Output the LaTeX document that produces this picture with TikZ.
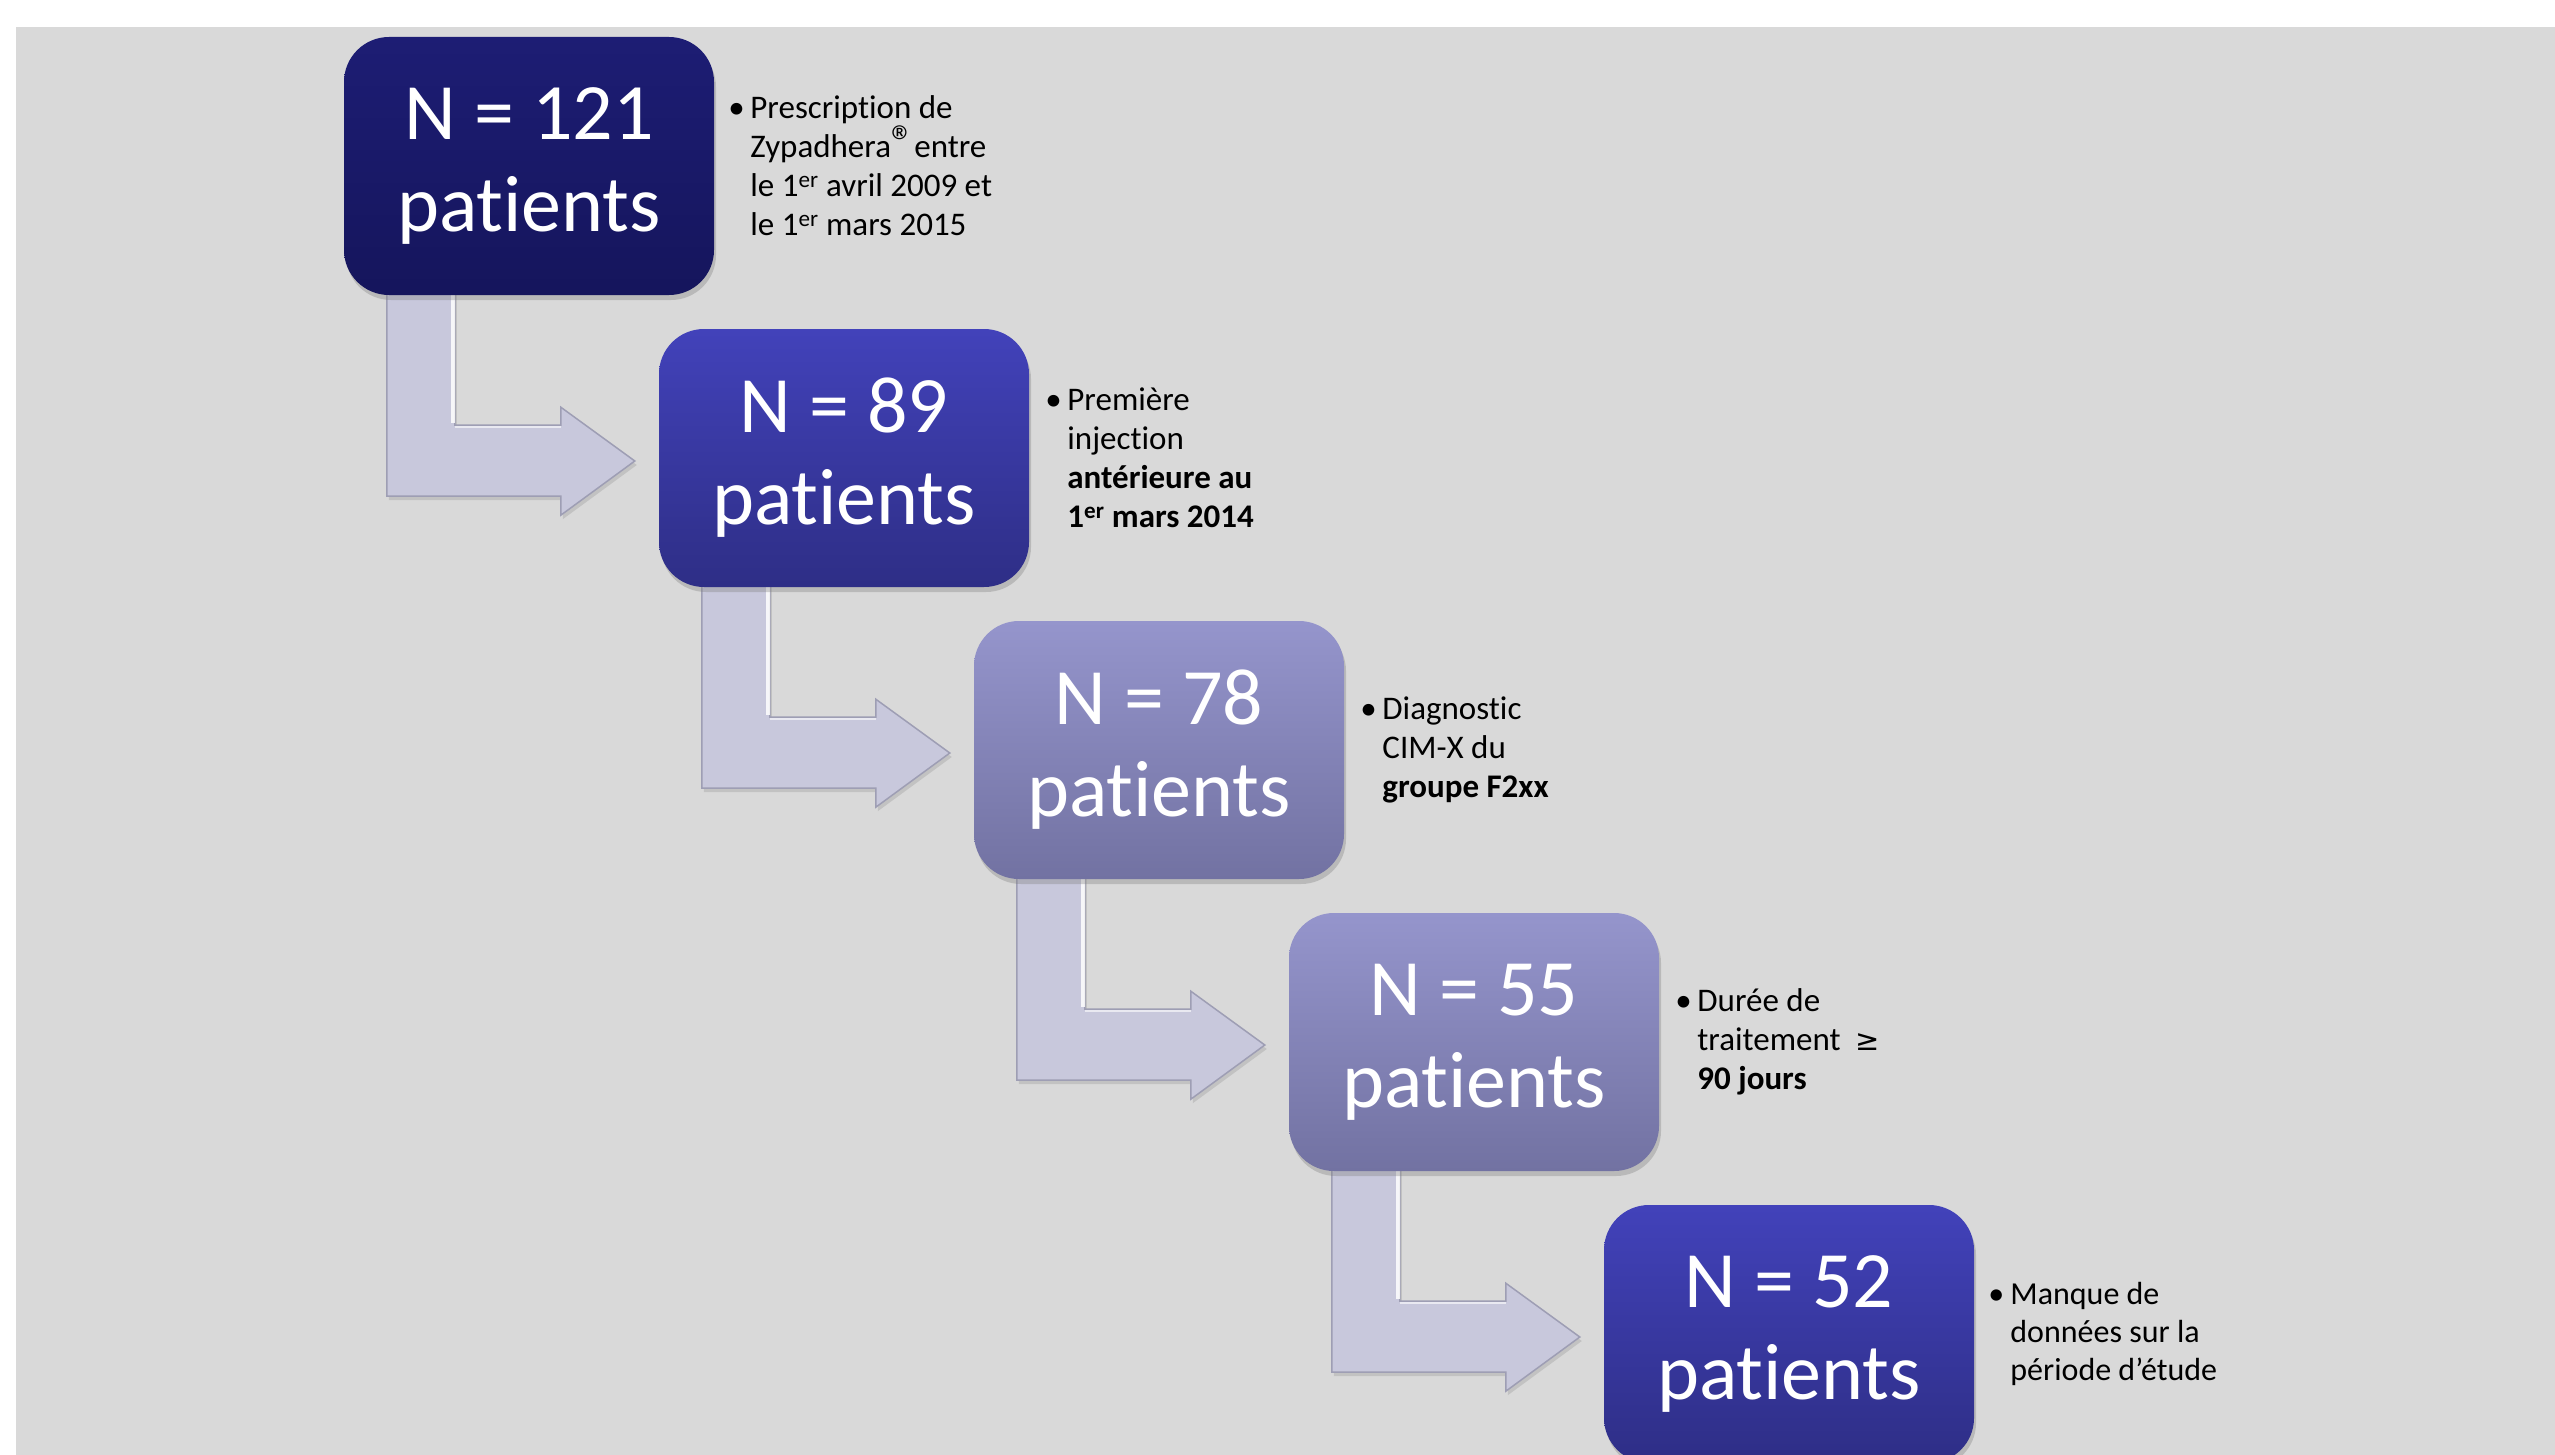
\documentclass[tikz,border=0pt]{standalone}
\usepackage{fontspec}
\setmainfont{Carlito}[Ligatures=NoCommon]
\newfontfamily\symf{DejaVu Sans}
\usetikzlibrary{calc,shadows,backgrounds}
\pgfdeclarelayer{arrowlayer}
\pgfsetlayers{background,arrowlayer,main}
\definecolor{bgc}{HTML}{D9D9D9}
\definecolor{darkT}{HTML}{1D1D74}
\definecolor{darkB}{HTML}{15155C}
\definecolor{midT}{HTML}{4242BA}
\definecolor{midB}{HTML}{2E2E86}
\definecolor{lightT}{HTML}{9595CC}
\definecolor{lightB}{HTML}{7272A2}
\definecolor{arrowc}{HTML}{C8C8DC}
\definecolor{arrowedge}{HTML}{9E9EB4}
\newcommand\bul{\makebox[22pt][l]{\textbullet}}
\newcommand\bulind{\hspace*{22pt}}
\newcommand\bentarrow[2]{%
  \fill[arrowc, draw=arrowedge, line width=1.5pt, drop shadow={shadow xshift=2pt, shadow yshift=-4pt, opacity=0.25}]
    ($(#1.south west)+(43,-5)$) -- ($(#1.south west)+(111,-5)$)
    -- ($(#1.south west)+(111,130)$) -- ($(#1.south west)+(217,130)$)
    -- ($(#1.south west)+(217,112)$) -- ($(#2.west)+(-24,3)$)
    -- ($(#1.south west)+(217,220)$) -- ($(#1.south west)+(217,201)$)
    -- ($(#1.south west)+(43,201)$) -- cycle;
  \draw[white, line width=4pt, opacity=0.85]
    ($(#1.south west)+(109,-2)$) -- ($(#1.south west)+(109,128)$);
  \draw[white, line width=2pt, opacity=0.6]
    ($(#1.south west)+(111,132)$) -- ($(#1.south west)+(217,132)$);
}
\begin{document}
\begin{tikzpicture}[x=1pt,y=-1pt,
  box/.style={rounded corners=45pt, minimum width=370pt, minimum height=258pt,
    inner sep=0pt, align=center, text=white,
    font=\fontsize{80}{92}\selectfont,
    drop shadow={shadow xshift=2pt, shadow yshift=-5pt, opacity=0.35}},
  darkbox/.style={box, top color=darkT, bottom color=darkB},
  midbox/.style={box, top color=midT, bottom color=midB},
  lightbox/.style={box, top color=lightT, bottom color=lightB},
  note/.style={anchor=west, inner sep=0pt, align=left, text=black,
    font=\fontsize{33}{39}\selectfont}]
\useasboundingbox (0,0) rectangle (2555,1455);
\begin{pgfonlayer}{background}
  \fill[white] (0,0) rectangle (2555,1455);
  \fill[bgc] (16,27) rectangle (2555,1455);
\end{pgfonlayer}

\node[darkbox]  (b1) at (529,166)  {N = 121\\patients};
\node[midbox]   (b2) at (844,458)  {N = 89\\patients};
\node[lightbox] (b3) at (1159,750) {N = 78\\patients};
\node[lightbox] (b4) at (1474,1042) {N = 55\\patients};
\node[midbox]   (b5) at (1789,1334) {N = 52\\patients};

\begin{pgfonlayer}{arrowlayer}
  \bentarrow{b1}{b2}
  \bentarrow{b2}{b3}
  \bentarrow{b3}{b4}
  \bentarrow{b4}{b5}
\end{pgfonlayer}

\node[note] (t1) at ($(b1.east)+(14,0)$) {\bul Prescription de\\
  \bulind Zypadhera{\fontsize{46}{39}\selectfont ®}entre\\
  \bulind le 1\textsuperscript{er} avril 2009 et\\
  \bulind le 1\textsuperscript{er} mars 2015};
\node[note] (t2) at ($(b2.east)+(16,0)$) {\bul Première\\
  \bulind injection\\
  \bulind \textbf{antérieure au}\\
  \bulind \textbf{1\textsuperscript{er} mars 2014}};
\node[note] (t3) at ($(b3.east)+(16,0)$) {\bul Diagnostic\\
  \bulind CIM-X du\\
  \bulind \textbf{groupe F2xx}};
\node[note] (t4) at ($(b4.east)+(16,0)$) {\bul Durée de\\
  \bulind traitement \ {\symf\fontsize{29}{39}\selectfont ≥}\\
  \bulind \textbf{90 jours}};
\node[note, font=\fontsize{32}{38}\selectfont] (t5) at ($(b5.east)+(14,0)$) {\bul Manque de\\
  \bulind données sur la\\
  \bulind période d’étude};
\end{tikzpicture}
\end{document}
